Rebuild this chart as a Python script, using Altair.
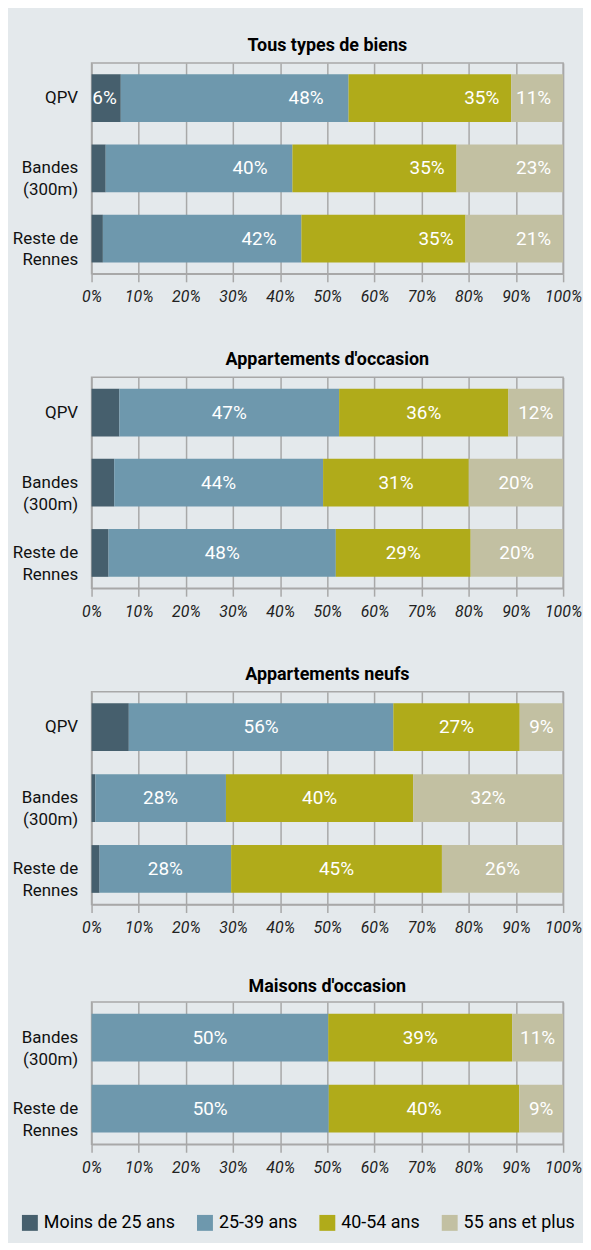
import json
import altair as alt
import pandas as pd

# ---------------- data ----------------
AGES = ["Moins de 25 ans", "25-39 ans", "40-54 ans", "55 ans et plus"]
COLORS = ["#465f6d", "#6e98ad", "#b0ab1a", "#c2c0a2"]

CATS3 = ["QPV", "Bandes (300m)", "Reste de Rennes"]
CATS2 = ["Bandes (300m)", "Reste de Rennes"]
CAT_LINES = {
    "QPV": ["QPV"],
    "Bandes (300m)": ["Bandes", "(300m)"],
    "Reste de Rennes": ["Reste de", "Rennes"],
}

TITLES = ["Tous types de biens", "Appartements d'occasion",
          "Appartements neufs", "Maisons d'occasion"]

tous_values = [[6.2, 48.3, 34.5, 11.0],
               [3.0, 39.6, 34.8, 22.6],
               [2.4, 42.1, 34.8, 20.7]]
tous_labels = [["6%", "48%", "35%", "11%"],
               ["", "40%", "35%", "23%"],
               ["", "42%", "35%", "21%"]]

occ_values = [[5.9, 46.6, 35.9, 11.6],
              [4.8, 44.3, 30.9, 20.0],
              [3.6, 48.2, 28.6, 19.6]]
occ_labels = [["", "47%", "36%", "12%"],
              ["", "44%", "31%", "20%"],
              ["", "48%", "29%", "20%"]]

neuf_values = [[7.9, 56.1, 26.8, 9.2],
               [0.8, 27.7, 39.7, 31.8],
               [1.7, 27.9, 44.7, 25.7]]
neuf_labels = [["", "56%", "27%", "9%"],
               ["", "28%", "40%", "32%"],
               ["", "28%", "45%", "26%"]]

maison_values = [[0.0, 50.2, 39.0, 10.8],
                 [0.0, 50.3, 40.4, 9.3]]
maison_labels = [["", "50%", "39%", "11%"],
                 ["", "50%", "40%", "9%"]]

X_TICKS = list(range(0, 101, 10))

# ---------------- style ----------------
FONT = "Roboto"
BG = "#e4e9ec"
GRID = "#a8a8a8"
PLOT_W = 474


def build_df(cats, values, labels):
    rows = []
    for cat, vals, labs in zip(cats, values, labels):
        start = 0.0
        for k, (age, v, lab) in enumerate(zip(AGES, vals, labs)):
            rows.append(dict(cat=cat, age=age, order=k, start=start,
                             end=start + v, mid=start + v / 2, label=lab))
            start += v
    return pd.DataFrame(rows)


label_map = json.dumps(CAT_LINES, ensure_ascii=False)
Y_LABEL_EXPR = f"{label_map}[datum.value]"

# per-class horizontal shift for "end"-anchored labels (first panel)
END_DX = {AGES[0]: -4, AGES[1]: -25, AGES[2]: -12, AGES[3]: -12}


def panel(title, cats, values, labels, height, mode, title_offset, x_extent):
    df = build_df(cats, values, labels)
    y = alt.Y("cat:N", sort=cats,
              scale=alt.Scale(paddingInner=0.33, paddingOuter=0.167),
              axis=alt.Axis(title=None, domain=False, ticks=False, grid=False,
                            labelExpr=Y_LABEL_EXPR, labelFontSize=17,
                            labelFont=FONT, labelColor="#111111",
                            labelPadding=14, labelLineHeight=22,
                            labelBaseline="middle",
                            minExtent=77, maxExtent=77))
    x = alt.X("start:Q",
              scale=alt.Scale(domain=[0, 100], nice=False, zero=True),
              axis=alt.Axis(title=None, values=X_TICKS,
                            labelExpr="datum.value + '%'",
                            grid=True, gridColor=GRID, gridWidth=1.5,
                            domainColor=GRID, domainWidth=1.5,
                            tickColor=GRID, tickWidth=1.5, tickSize=8,
                            labelFont=FONT, labelFontSize=16,
                            labelFontStyle="italic", labelColor="#222222",
                            labelPadding=7, labelFlush=False,
                            minExtent=x_extent, maxExtent=x_extent))
    base = alt.Chart(df)
    bars = base.mark_bar(size=48).encode(
        x=x, x2="end:Q", y=y,
        color=alt.Color("age:N",
                        scale=alt.Scale(domain=AGES, range=COLORS),
                        legend=alt.Legend(title=None, orient="none",
                                          direction="horizontal",
                                          legendX=-71, legendY=1157)),
        order="order:Q",
    )
    layers = [bars]
    if mode == "end":
        for age in AGES:
            layers.append(
                base.transform_filter(alt.datum.age == age)
                .mark_text(align="right", baseline="middle", dx=END_DX[age],
                           font=FONT, fontSize=19, color="white")
                .encode(x="end:Q", y=alt.Y("cat:N", sort=cats), text="label:N")
            )
    else:
        layers.append(
            base.mark_text(align="center", baseline="middle",
                           font=FONT, fontSize=19, color="white")
            .encode(x="mid:Q", y=alt.Y("cat:N", sort=cats), text="label:N")
        )
    return alt.layer(*layers).properties(
        width=PLOT_W, height=height,
        title=alt.TitleParams(title, offset=title_offset, font=FONT,
                              fontSize=18, fontWeight="bold", color="#000000",
                              anchor="middle"),
    )


p1 = panel(TITLES[0], CATS3, tous_values, tous_labels, 212, "end", 8, 38)
p2 = panel(TITLES[1], CATS3, occ_values, occ_labels, 212, "center", 8, 38)
p3 = panel(TITLES[2], CATS3, neuf_values, neuf_labels, 214, "center", 8, 34)
p4 = panel(TITLES[3], CATS2, maison_values, maison_labels, 143, "center", 6, 30)

chart = alt.vconcat(p1, p2, p3, p4, spacing=38).properties(
    background=BG,
    padding={"left": 3, "top": 25, "right": 0, "bottom": 8},
).configure_view(
    stroke=GRID, strokeWidth=1.5,
).configure_legend(
    symbolType="square", symbolSize=256, symbolStrokeWidth=0,
    labelFont=FONT, labelFontSize=18, labelColor="#000000",
    columnPadding=21, labelOffset=5, padding=0,
)

chart.save("out.html", embed_options={"renderer": "svg", "actions": False})
